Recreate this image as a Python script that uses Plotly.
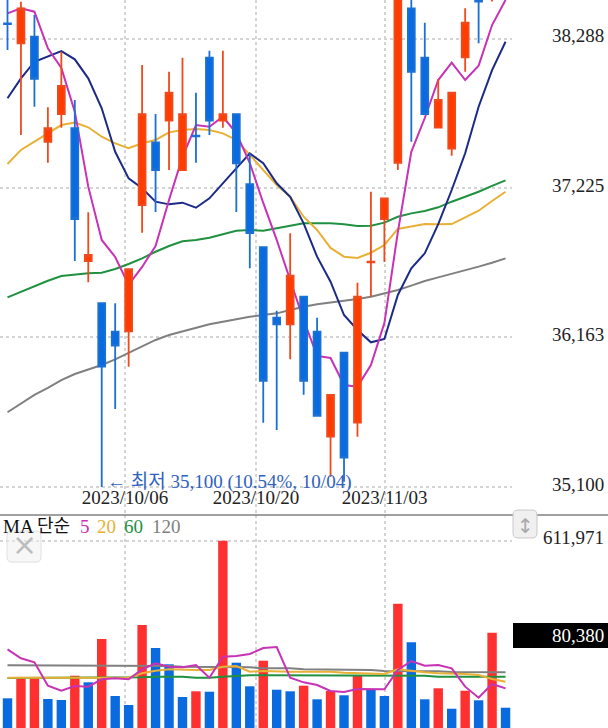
import plotly.graph_objects as go

# ---------- data ----------
index = list(range(38))
opens = [38396,38254,38301,37554,37751,37650,36706,36406,36204,36206,37104,37550,37704,37353,37597,38152,37704,37751,37252,36804,36303,36256,36452,36204,35457,36054,35557,36697,37005,37405,38503,38152,37654,37505,38155,38704,38598,38900]
closes = [38391,38503,38002,37650,37951,37005,36749,35955,36104,36649,37751,37353,37903,37751,37593,37704,37751,37401,36905,35855,36256,36602,35855,35606,35754,35308,36452,36701,37152,38633,38052,37751,37851,37903,38401,38550,38775,38720]
highs = [38598,38550,38455,37799,38194,37851,37053,36406,36406,36649,38100,37751,38052,38152,37903,38202,38202,37751,37472,36804,36353,36903,36452,36303,35754,36054,36552,37199,37152,38704,38619,38401,38000,37903,38503,38740,38846,38950]
lows = [38206,37602,37803,37405,37654,36706,36555,35100,35654,35955,36908,37055,37353,37353,37405,37602,37654,37055,36654,35557,35505,36007,35756,35606,35173,35137,35457,36452,36699,37353,37554,37751,37654,37455,38052,38254,38551,38640]

ma5 = [38467,38503,38479,38219,38079,37768,37235,36856,36735,36536,36664,36813,37140,37446,37673,37661,37732,37616,37403,37119,36856,36571,36287,36031,36017,35825,35813,35967,36265,36912,37483,37723,37993,38116,37993,38095,38384,38562]
ma10 = [37863,38005,38123,38159,38199,38140,38005,37792,37483,37294,37223,37128,37109,37121,37085,37152,37259,37365,37472,37401,37259,37163,36974,36737,36559,36322,36216,36128,36152,36465,36654,36761,36969,37211,37472,37803,38064,38265]
ma20 = [37396,37496,37555,37616,37673,37690,37657,37590,37543,37508,37543,37567,37621,37638,37645,37638,37614,37567,37460,37353,37247,37163,37021,36927,36799,36737,36728,36765,36820,36934,36950,36969,36967,36969,37017,37064,37133,37199]
ma60 = [36448,36488,36529,36566,36600,36612,36619,36623,36649,36685,36725,36772,36813,36846,36856,36872,36896,36922,36927,36922,36939,36957,36974,36974,36974,36967,36955,36957,36979,37021,37045,37062,37088,37128,37163,37199,37240,37280]
ma120 = [35631,35695,35754,35805,35860,35903,35936,35967,36007,36054,36102,36145,36180,36206,36232,36256,36275,36294,36310,36322,36334,36358,36381,36398,36410,36422,36436,36452,36477,36500,36531,36564,36590,36614,36637,36666,36694,36725]

volume = [110330,173990,173990,108100,104920,182270,161260,299080,117650,89000,343640,270430,218550,114470,132610,131340,611971,223640,148530,230010,137700,132610,150440,107150,133570,119880,182270,136750,117650,411440,288580,107150,142160,77200,134520,103960,319135,80380]
volume_up = [0,1,1,0,0,1,0,1,0,0,1,0,0,0,1,0,1,0,0,1,0,0,1,0,1,0,1,0,0,1,0,0,1,0,1,0,1,0]
vol_ma5 = [266192,237545,224813,150543,134628,149482,147360,170702,173885,170702,202532,221630,211020,208898,216325,175993,242850,244972,251338,270436,273619,175993,161153,152665,133567,130384,139933,138872,138872,200410,229057,214203,216325,205715,147360,112347,155848,142055]
vol_ma20 = [176007,176007,176007,176007,176007,176007,176007,176007,176007,176007,189800,198288,202532,200410,200410,200410,211020,213142,195105,197227,195105,195105,195105,195105,195105,191922,189800,187678,187678,202532,197227,192983,189800,189800,187678,184495,171763,163275]
vol_ma60 = [174946,174946,176007,176007,176007,176007,176007,176007,177068,177068,177068,179190,179190,179190,176007,176007,179190,182373,183434,183434,183434,183434,182373,182373,182373,182373,182373,182373,182373,182373,182373,182373,179190,179190,179190,179190,179190,179190]
vol_ma120 = [215264,215264,215264,215264,215264,215264,215264,215264,215264,213142,213142,213142,213142,211020,211020,211020,208898,208898,208898,205715,205715,205715,202532,202532,202532,202532,200410,200410,197227,197227,196166,196166,196166,194000,194000,194000,192983,192983]

price_ticks = [38288, 37225, 36163, 35100]
price_labels = ["38,288", "37,225", "36,163", "35,100"]
vol_ticks = [611971]
vol_labels = ["611,971"]
date_ticks = [8.73, 18.46, 28.02]
date_labels = ["2023/10/06", "2023/10/20", "2023/11/03"]

RED, RED_LINE, BLUE, BLUE_LINE = "#FF3C00", "#F04A1C", "#0A6BE0", "#1A70D4"
VRED, VBLUE = "#FF3030", "#0A6BE0"
C5, C10, C20, C60, C120 = "#C832B4", "#1A2A85", "#E8B034", "#1F9140", "#808080"
SERIF = "'Liberation Serif','Noto Sans CJK KR',serif"
GRID = "#d4d4d4"

W, H, PW, SPLIT = 608, 728, 512, 515
def px(x): return x / PW
def py(y): return 1 - y / H

def rounded(x0, y0, x1, y1, r):
    # rounded-rectangle outline for layout buttons, in paper fractions
    X0, X1, XA, XB = px(x0), px(x1), px(x0 + r), px(x1 - r)
    Y0, Y1, YA, YB = py(y0), py(y1), py(y0 + r), py(y1 - r)
    return (f"M {XA} {Y0} L {XB} {Y0} Q {X1} {Y0} {X1} {YA} L {X1} {YB} Q {X1} {Y1} {XB} {Y1} "
            f"L {XA} {Y1} Q {X0} {Y1} {X0} {YB} L {X0} {YA} Q {X0} {Y0} {XA} {Y0} Z")

fig = go.Figure()

for ys, c in [(ma120, C120), (ma60, C60), (ma20, C20), (ma10, C10), (ma5, C5)]:
    fig.add_trace(go.Scatter(x=index, y=ys, mode="lines", line=dict(color=c, width=2), xaxis="x", yaxis="y"))

fig.add_trace(go.Candlestick(
    x=index, open=opens, high=highs, low=lows, close=closes, xaxis="x", yaxis="y3",
    increasing=dict(line=dict(color=RED_LINE, width=1.8), fillcolor=RED),
    decreasing=dict(line=dict(color=BLUE_LINE, width=1.8), fillcolor=BLUE),
    whiskerwidth=0))

bar_colors = [VRED if up else VBLUE for up in volume_up]
fig.add_trace(go.Bar(x=index, y=volume, marker=dict(color=bar_colors, line_width=0), xaxis="x2", yaxis="y2"))
for ys, c in [(vol_ma120, C120), (vol_ma60, C60), (vol_ma20, C20), (vol_ma5, C5)]:
    fig.add_trace(go.Scatter(x=index, y=ys, mode="lines", line=dict(color=c, width=2), xaxis="x2", yaxis="y2"))

xcommon = dict(range=[-0.557, 37.48], tickmode="array", tickvals=date_ticks, ticktext=date_labels,
               showgrid=True, gridcolor=GRID, griddash="dot", gridwidth=1.5, zeroline=False, showline=False,
               ticks="", tickfont=dict(family=SERIF, size=19, color="#222"))
yfont = dict(family=SERIF, size=19, color="#222")
p_range = [34900.3, 38562]
v_range = [15795, 693774]

fig.update_layout(
    width=W, height=H, margin=dict(l=0, r=W - PW, t=0, b=0), showlegend=False,
    paper_bgcolor="white", plot_bgcolor="white", bargap=0.3, boxgap=0.27, hovermode=False,
    xaxis=dict(**xcommon, domain=[0, 1], anchor="y", rangeslider=dict(visible=False),
               showticklabels=True, ticklabelposition="inside", ticklabelstandoff=4),
    xaxis2=dict(**xcommon, domain=[0, 1], anchor="y2", matches="x", showticklabels=False),
    yaxis=dict(domain=[py(SPLIT), 1], range=p_range, side="right", anchor="x", tickmode="array",
               tickvals=price_ticks, ticktext=price_labels, showgrid=True, gridcolor=GRID, griddash="dot",
               gridwidth=1.5, zeroline=False, ticks="", tickfont=yfont, ticklabelstandoff=39, ticklabelshift=-3),
    yaxis2=dict(domain=[0, py(SPLIT)], range=v_range, side="right", anchor="x2", tickmode="array",
                tickvals=vol_ticks, ticktext=vol_labels, showgrid=True, gridcolor=GRID, griddash="dot",
                gridwidth=1.5, zeroline=False, ticks="", tickfont=yfont, ticklabelstandoff=30, ticklabelshift=-3),
    yaxis3=dict(overlaying="y", range=p_range, side="right", anchor="x", visible=False),
)

def note(text, x, y, color, anchor="left", size=19):
    fig.add_annotation(text=text, xref="paper", yref="paper", x=px(x), y=py(y), xanchor=anchor, yanchor="middle",
                       showarrow=False, font=dict(family=SERIF, size=size, color=color), borderpad=0, borderwidth=0)

shapes = [
    dict(type="line", xref="paper", yref="paper", x0=0, x1=px(W), y0=py(SPLIT), y1=py(SPLIT),
         line=dict(color="#808080", width=1.5)),
    dict(type="rect", xref="paper", yref="paper", x0=px(513), x1=px(W), y0=py(648), y1=py(623),
         fillcolor="black", line_width=0),
    dict(type="path", xref="paper", yref="paper", path=rounded(7, 531, 41, 562, 5),
         fillcolor="rgba(240,240,240,0.5)", line=dict(color="#e0e0e0", width=1)),
    dict(type="path", xref="paper", yref="paper", path=rounded(513, 510, 537, 538, 5),
         fillcolor="#f0f0f0", line=dict(color="#c8c8c8", width=1)),
]
fig.update_layout(shapes=shapes)

note("MA", 3, 526, "#111")
note("단순", 37, 526, "#111", size=18)
note("5", 80, 526, C5)
note("20", 97, 526, C20)
note("60", 124, 526, C60)
note("120", 152, 526, C120)
note("← 최저 35,100 (10.54%, 10/04)", 107, 482, "#2F62BE", size=19)
note("80,380", 604, 635, "white", anchor="right")
fig.add_annotation(text="×", xref="paper", yref="paper", x=px(24), y=py(544), xanchor="center", yanchor="middle",
                   showarrow=False, font=dict(family="DejaVu Sans", size=30, color="#bdbdbd"))
fig.add_annotation(text="↕", xref="paper", yref="paper", x=px(525), y=py(526), xanchor="center", yanchor="middle",
                   showarrow=False, font=dict(family="DejaVu Sans", size=20, color="#a8a8a8"))

fig.write_html("out.html", config=dict(displayModeBar=False),
               post_script="document.body.style.margin='0';document.documentElement.style.overflow='hidden';")
